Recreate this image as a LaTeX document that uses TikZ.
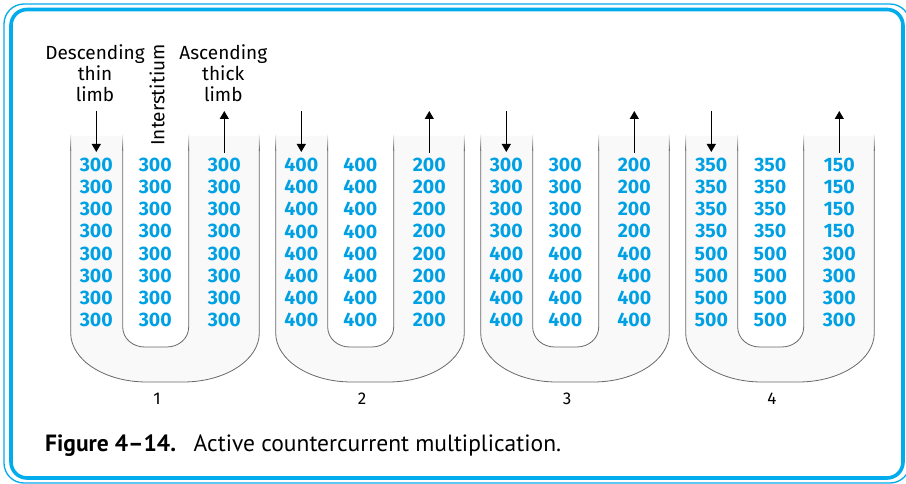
\documentclass[tikz,border=0pt]{standalone}
\usepackage{fontspec}
\setmainfont{Fira Sans}
\newfontfamily\capfont{PT Sans}
\usetikzlibrary{arrows.meta}
\definecolor{numblue}{RGB}{0,160,228}
\definecolor{frameblue}{RGB}{0,172,236}
\definecolor{wallgray}{RGB}{105,105,105}
\definecolor{tubefill}{RGB}{249,249,249}
\begin{document}
\begin{tikzpicture}[x=1pt,y=-1pt,
  num/.style={font=\fontsize{19.5}{19.5}\selectfont\bfseries, text=numblue, inner sep=0pt, anchor=center},
  lab/.style={font=\fontsize{19}{21.3}\selectfont, align=center, inner sep=0pt},
  idx/.style={font=\fontsize{17}{17}\selectfont, inner sep=0pt},
  wall/.style={draw=wallgray, line width=0.8pt},
  flow/.style={-{Triangle[length=8pt,width=9pt]}, line width=1.2pt},
]
\useasboundingbox (0,0) rectangle (906,484);
\clip (0,0) rectangle (906,484);
% frame
\draw[frameblue, line width=1.3pt, rounded corners=20pt] (4,4) rectangle (910,483);
\draw[frameblue, line width=3.6pt, rounded corners=16pt] (11,9.5) rectangle (903,478);
% U tubes
\foreach \k in {0,1,2,3}{
  \pgfmathsetmacro{\ol}{70.7+205*\k}
  \pgfmathsetmacro{\il}{122.7+205*\k}
  \pgfmathsetmacro{\ir}{188.7+205*\k}
  \pgfmathsetmacro{\orr}{259.3+205*\k}
  \fill[tubefill] (\ol,136) -- (\ol,333) .. controls (\ol,360) and (\ol+34,382) .. (\ol+76,382)
     -- (\orr-76,382) .. controls (\orr-34,382) and (\orr,360) .. (\orr,333) -- (\orr,136)
     -- (\ir,136) -- (\ir,327) .. controls (\ir,338.5) and (\ir-10,347) .. (\ir-22,347)
     -- (\il+22,347) .. controls (\il+10,347) and (\il,338.5) .. (\il,327) -- (\il,136) -- cycle;
  \draw[wall] (\ol,150) -- (\ol,333) .. controls (\ol,360) and (\ol+34,382) .. (\ol+76,382)
     -- (\orr-76,382) .. controls (\orr-34,382) and (\orr,360) .. (\orr,333) -- (\orr,150);
  \draw[wall] (\il,150) -- (\il,327) .. controls (\il,338.5) and (\il+10,347) .. (\il+22,347)
     -- (\ir-22,347) .. controls (\ir-10,347) and (\ir,338.5) .. (\ir,327) -- (\ir,150);
  \foreach \w in {\ol,\il,\ir,\orr}{
    \shade[top color=white, bottom color=wallgray] (\w-0.45,133) rectangle (\w+0.45,150.5);
  }
}
% numbers
\foreach \k/\a/\b/\c/\d/\e/\f in {0/300/300/300/300/300/300,1/400/400/400/400/200/200,2/300/400/300/400/200/400,3/350/500/350/500/150/300}{
  \pgfmathsetmacro{\xa}{96.3+205*\k}
  \pgfmathsetmacro{\xb}{155.3+205*\k}
  \pgfmathsetmacro{\xc}{224.3+205*\k}
  \foreach \r in {0,...,7}{
    \pgfmathsetmacro{\yy}{165+22.14*\r}
    \ifnum\r<4
      \node[num] (n\k-a-\r) at (\xa,\yy) {\a};
      \node[num] (n\k-b-\r) at (\xb,\yy) {\c};
      \node[num] (n\k-c-\r) at (\xc,\yy) {\e};
    \else
      \node[num] (n\k-a-\r) at (\xa,\yy) {\b};
      \node[num] (n\k-b-\r) at (\xb,\yy) {\d};
      \node[num] (n\k-c-\r) at (\xc,\yy) {\f};
    \fi
  }
  \coordinate (dtop\k) at (\xa,111);
  \coordinate (dbot\k) at (\xa,152);
  \coordinate (ubot\k) at (\xc,153);
  \coordinate (utop\k) at (\xc,111);
  \draw[flow] (dtop\k) -- (dbot\k);
  \draw[flow] (ubot\k) -- (utop\k);
  \node[idx] (idx\k) at (157+205*\k,399) {\the\numexpr\k+1\relax};
}
% labels
\node[lab, anchor=north] (desc) at (95,44) {Descending\\thin\\limb};
\node[lab, anchor=north] (asc) at (223.3,44) {Ascending\\thick\\limb};
\node[lab, rotate=90] (inter) at (157,95) {Interstitium};
% caption
\node[anchor=base west, inner sep=0pt, font=\capfont\fontsize{23.5}{23.5}\selectfont] (cap) at (45,451)
  {\textbf{Figure 4–14.}\hspace{0.75em}Active countercurrent multiplication.};
\end{tikzpicture}
\end{document}
